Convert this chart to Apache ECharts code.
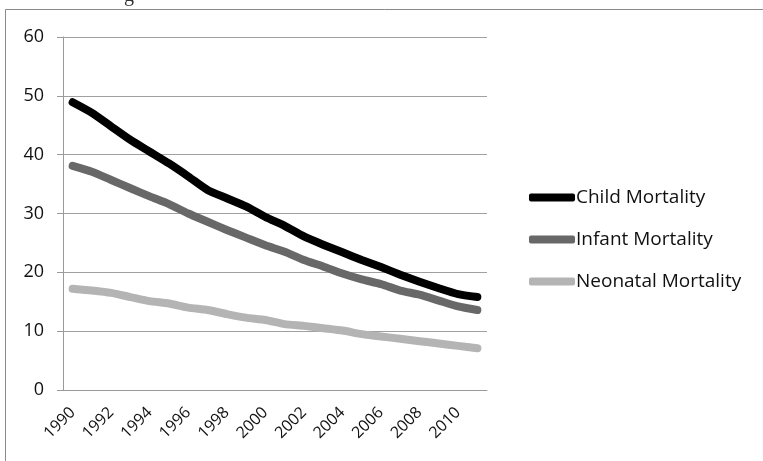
<!DOCTYPE html>
<html><head><meta charset="utf-8">
<script src="https://cdn.jsdelivr.net/npm/echarts@6/dist/echarts.min.js"></script>
<style>html,body{margin:0;padding:0;background:#fff}#c{width:763px;height:461px}</style>
</head><body><div id="c"></div>
<script>
const years = ['1990','1991','1992','1993','1994','1995','1996','1997','1998','1999','2000','2001','2002','2003','2004','2005','2006','2007','2008','2009','2010','2011'];
const child = [48.9,47.1,44.8,42.5,40.5,38.5,36.3,34.0,32.6,31.2,29.4,27.9,26.1,24.7,23.4,22.1,20.9,19.6,18.4,17.3,16.3,15.8];
const infant = [38.1,37.1,35.7,34.3,32.9,31.6,30.0,28.6,27.2,25.9,24.6,23.5,22.1,21.0,19.8,18.8,18.0,16.9,16.2,15.2,14.2,13.6];
const neonatal = [17.2,16.9,16.5,15.8,15.1,14.7,14.0,13.6,12.9,12.3,11.9,11.2,10.9,10.5,10.1,9.5,9.1,8.7,8.3,7.9,7.5,7.1];
const seriesNames = ['Child Mortality','Infant Mortality','Neonatal Mortality'];
const colors = ['#000000','#686868','#b4b4b4'];
const font = 'Open Sans';
const chart = echarts.init(document.getElementById('c'));
const mk = (name, data, color) => ({
  name, type: 'line', data, smooth: 0.2, symbol: 'none',
  lineStyle: {color, width: 8, cap: 'round', join: 'round'}, itemStyle: {color}
});
chart.setOption({
  animation: false,
  textStyle: {fontFamily: font},
  grid: {left: 63, top: 37, right: 276, bottom: 71},
  legend: {
    orient: 'vertical', left: 524, top: 183, itemGap: 23,
    itemWidth: 46, itemHeight: 8,
    icon: 'roundRect',
    textStyle: {fontFamily: font, fontSize: 19, color: '#111', padding: [0,0,0,-4]},
    data: seriesNames
  },
  graphic: [
    {type: 'rect', shape: {x: 5.5, y: 9.5, width: 800, height: 500}, style: {fill: 'none', stroke: '#8a8a8a', lineWidth: 1}},
    {type: 'text', left: 124, top: -14, style: {text: 'g', fontFamily: 'Liberation Serif', fontSize: 20, fill: '#333'}}
  ],
  xAxis: {
    type: 'category', data: years, boundaryGap: true,
    axisLine: {lineStyle: {color: '#9a9a9a', width: 1}},
    axisTick: {interval: 0, length: 6, lineStyle: {color: '#9a9a9a'}},
    axisLabel: {interval: 1, rotate: 45, fontFamily: font, fontSize: 16, color: '#111', margin: 20}
  },
  yAxis: {
    type: 'value', min: 0, max: 60, interval: 10,
    axisLine: {show: true, lineStyle: {color: '#9a9a9a'}},
    axisTick: {show: true, length: 6, lineStyle: {color: '#9a9a9a'}},
    splitLine: {lineStyle: {color: '#a0a0a0', width: 1}},
    axisLabel: {fontFamily: font, fontSize: 18, color: '#111', margin: 19}
  },
  series: [mk(seriesNames[0], child, colors[0]), mk(seriesNames[1], infant, colors[1]), mk(seriesNames[2], neonatal, colors[2])]
});
</script></body></html>
